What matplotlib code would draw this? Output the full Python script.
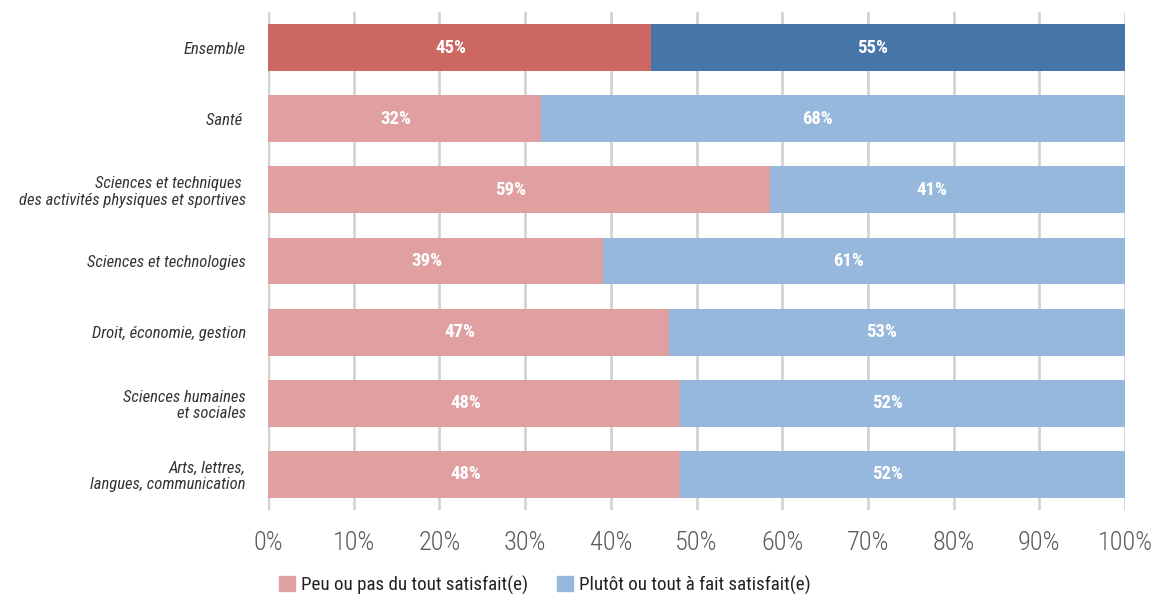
import numpy as np
import matplotlib.pyplot as plt
from matplotlib.patches import Patch
from matplotlib import font_manager

names = {f.name for f in font_manager.fontManager.ttflist}
narrow = 'Roboto'
for cand in ['Roboto Condensed', 'Liberation Sans Narrow', 'Open Sans Condensed']:
    if cand in names:
        narrow = cand
        break
plt.rcParams['font.family'] = [narrow, 'DejaVu Sans']

categories = ['Ensemble', 'Santé ', 'Sciences et techniques \ndes activités physiques et sportives',
              'Sciences et technologies', 'Droit, économie, gestion',
              'Sciences humaines\net sociales', 'Arts, lettres,\nlangues, communication']
peu = [44.7, 31.9, 58.6, 39.1, 46.8, 48.1, 48.1]
plutot = [55.3, 68.1, 41.4, 60.9, 53.2, 51.9, 51.9]
peu_labels = ['45%', '32%', '59%', '39%', '47%', '48%', '48%']
plutot_labels = ['55%', '68%', '41%', '61%', '53%', '52%', '52%']
xticks = [0, 10, 20, 30, 40, 50, 60, 70, 80, 90, 100]
legend_labels = ['Peu ou pas du tout satisfait(e)', 'Plutôt ou tout à fait satisfait(e)']

red_dark, blue_dark = '#CD6762', '#4675A8'
red_light, blue_light = '#E0A0A1', '#95B8DC'

fig = plt.figure(figsize=(11.59, 5.94), dpi=100)
ax = fig.add_axes([268/1159, 1 - 510/594, (1125 - 268)/1159, (510 - 12)/594])

y = np.arange(len(categories))
c1 = [red_dark] + [red_light] * (len(categories) - 1)
c2 = [blue_dark] + [blue_light] * (len(categories) - 1)
h = 0.66
ax.barh(y, peu, height=h, color=c1, zorder=3)
ax.barh(y, plutot, left=peu, height=h, color=c2, zorder=3)

for i in range(len(categories)):
    ax.text(peu[i] / 2 - 1.0, y[i], peu_labels[i], ha='center', va='center',
            color='white', fontsize=13.5, fontweight='bold', zorder=4)
    ax.text(peu[i] + plutot[i] / 2 - 1.8, y[i], plutot_labels[i], ha='center', va='center',
            color='white', fontsize=13.5, fontweight='bold', zorder=4)

ax.set_xlim(0, 100)
ax.set_ylim(len(categories) - 0.5, -0.5)
ax.set_xticks(xticks)
ax.set_xticklabels([f'{t}%' for t in xticks], fontsize=19, color='#5a5a5a',
                   fontweight='light')
ax.set_yticks(y)
ax.set_yticklabels(categories, fontsize=12, style='italic', color='#333333',
                   linespacing=1.1)
ax.tick_params(axis='both', length=0)
ax.tick_params(axis='y', pad=16)
ax.tick_params(axis='x', pad=15)
for s in ax.spines.values():
    s.set_visible(False)
ax.grid(axis='x', color='#d3d3d3', linewidth=2, zorder=0)
ax.axvline(0, color='#c4c4c4', linewidth=2.5, zorder=1)

handles = [Patch(color=red_light), Patch(color=blue_light)]
fig.legend(handles, legend_labels, loc='lower left', bbox_to_anchor=(262/1159, -0.03),
           ncol=2, frameon=False, fontsize=13.7, handlelength=0.85, handleheight=0.85,
           handletextpad=0.3, columnspacing=1.5, labelcolor='#222222')

fig.savefig('out.png', dpi=100)
